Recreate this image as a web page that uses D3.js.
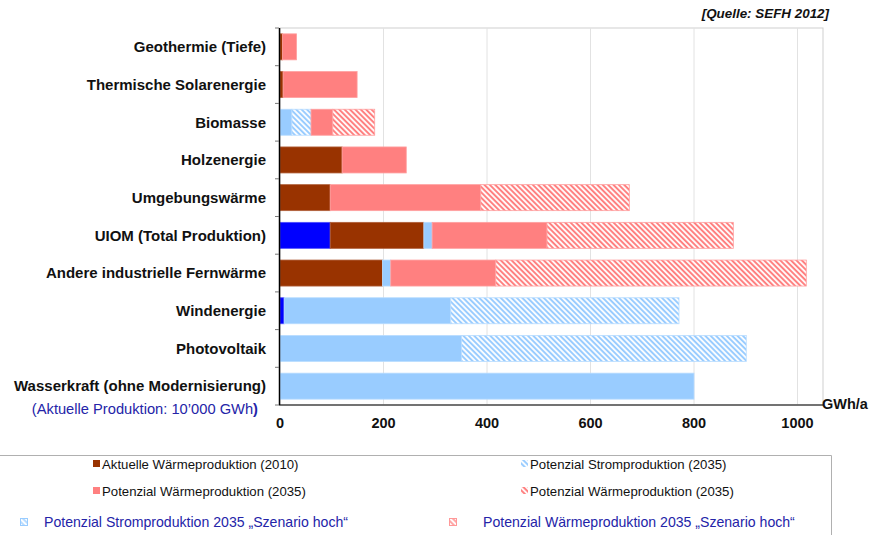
<!DOCTYPE html>
<html><head><meta charset="utf-8">
<script src="https://cdn.jsdelivr.net/npm/d3@7"></script>
<style>body{margin:0;background:#fff}svg{display:block;font-family:"Liberation Sans",Arial,sans-serif}</style>
</head><body><svg id="c" width="872" height="535"></svg>
<script>
const categories = ["Geothermie (Tiefe)","Thermische Solarenergie","Biomasse","Holzenergie","Umgebungswärme","UIOM (Total Produktion)","Andere industrielle Fernwärme","Windenergie","Photovoltaik","Wasserkraft (ohne Modernisierung)"];
const aktuelleStrom  = [0,0,0,0,0,97,0,8,0,0];
const aktuelleWaerme = [5,6,0,120,97,181,198,0,0,0];
const potStrom       = [0,0,23,0,0,16,16,322,351,800];
const potStromHoch   = [0,0,37,0,0,0,0,441,550,0];
const potWaerme      = [27,143,42,124,291,222,203,0,0,0];
const potWaermeHoch  = [0,0,81,0,287,360,600,0,0,0];
const xTicks = [0,200,400,600,800,1000];

const seriesKeys = ["aS","aW","pS","pSH","pW","pWH"];
const seriesArr = [aktuelleStrom,aktuelleWaerme,potStrom,potStromHoch,potWaerme,potWaermeHoch];
const fills = {aS:"#0000FF",aW:"#993300",pS:"#99CCFF",pSH:"url(#hatchB)",pW:"#FF8080",pWH:"url(#hatchR)"};
const edge = {aS:"#4d4dff",aW:"#b0603a",pS:"#b8dcff",pSH:"#b8dcff",pW:"#ffa0a0",pWH:"#ffa0a0"};

const rows = categories.map((c,i)=>{const o={cat:c};seriesKeys.forEach((k,j)=>o[k]=seriesArr[j][i]);return o;});
const svg = d3.select("#c");
const defs = svg.append("defs");
function hatch(id,color){
  const s = 3.8;
  const p = defs.append("pattern").attr("id",id).attr("patternUnits","userSpaceOnUse")
    .attr("width",s).attr("height",s).attr("patternTransform","rotate(-45)");
  p.append("rect").attr("width",s).attr("height",s).attr("fill",color);
  p.append("line").attr("x1",s/4).attr("y1",0).attr("x2",s/4).attr("y2",s).attr("stroke","#fff").attr("stroke-width",1.8);
}
hatch("hatchB","#99CCFF");
hatch("hatchR","#FF8080");

const L=280, R=823, T=28, B=405;
const x = d3.scaleLinear().domain([0,1050]).range([L, L+1050*0.5175]);
const y = d3.scaleBand().domain(categories).range([T,B]).paddingInner(0.31).paddingOuter(0.155);

// plot border
svg.append("rect").attr("x",L).attr("y",T).attr("width",R-L).attr("height",B-T).attr("fill","none").attr("stroke","#cfcfcf");
// grid
svg.append("g").selectAll("line").data(xTicks.slice(1)).join("line")
  .attr("x1",d=>x(d)).attr("x2",d=>x(d)).attr("y1",T).attr("y2",B).attr("stroke","#e2e2e2");

const stack = d3.stack().keys(seriesKeys)(rows);
svg.append("g").selectAll("g").data(stack).join("g")
  .selectAll("rect").data(s=>s.map(d=>({d,key:s.key}))).join("rect")
  .filter(o=>o.d[1]-o.d[0]>0)
  .attr("x",o=>x(o.d[0])).attr("width",o=>x(o.d[1])-x(o.d[0]))
  .attr("y",o=>y(o.d.data.cat)).attr("height",y.bandwidth())
  .attr("fill",o=>fills[o.key]).attr("stroke",o=>edge[o.key]).attr("stroke-width",0.8);

// left axis
const band = (B-T)/categories.length;
svg.append("line").attr("x1",279.5).attr("x2",279.5).attr("y1",T).attr("y2",B).attr("stroke","#000").attr("stroke-width",1.5);
svg.append("g").selectAll("line").data(d3.range(categories.length+1)).join("line")
  .attr("x1",275).attr("x2",279).attr("y1",i=>T+i*band).attr("y2",i=>T+i*band).attr("stroke","#777");
svg.append("g").selectAll("text").data(categories).join("text")
  .attr("x",266).attr("y",d=>y(d)+y.bandwidth()/2).attr("dy","0.35em").attr("text-anchor","end")
  .attr("font-size",15).attr("font-weight","bold").attr("fill","#111").text(d=>d);
const sub = svg.append("text").attr("x",258).attr("y",409).attr("dy","0.35em").attr("text-anchor","end")
  .attr("font-size",14.7).attr("fill","#2424a8");
sub.append("tspan").text("(Aktuelle Produktion: 10’000 GWh");
sub.append("tspan").attr("font-weight","bold").text(")");

// bottom axis
svg.append("line").attr("x1",279).attr("x2",R).attr("y1",B).attr("y2",B).attr("stroke","#000").attr("stroke-width",1.2);
svg.append("g").selectAll("text").data(xTicks).join("text")
  .attr("x",d=>x(d)).attr("y",423).attr("dy","0.35em").attr("text-anchor","middle")
  .attr("font-size",14.5).attr("font-weight","bold").attr("fill","#111").text(d=>d);
svg.append("text").attr("x",822).attr("y",404).attr("dy","0.35em").attr("font-size",14.5).attr("font-weight","bold").attr("fill","#111").text("GWh/a");
svg.append("text").attr("x",829).attr("y",13).attr("dy","0.35em").attr("text-anchor","end")
  .attr("font-size",13.4).attr("font-weight","bold").attr("font-style","italic").attr("fill","#111").text("[Quelle: SEFH 2012]");

// legend box
svg.append("path").attr("d","M0,455.5H831.5V535").attr("fill","none").attr("stroke","#b0b0b0");
const legendItems = [
  {x:93,y:464,fill:"#993300",label:"Aktuelle Wärmeproduktion (2010)"},
  {x:93,y:491,fill:"#FF8080",label:"Potenzial Wärmeproduktion (2035)"},
  {x:521,y:464,fill:"url(#hatchB)",label:"Potenzial Stromproduktion (2035)"},
  {x:521,y:491,fill:"url(#hatchR)",label:"Potenzial Wärmeproduktion (2035)"}
];
const lg = svg.append("g").selectAll("g").data(legendItems).join("g");
lg.append("rect").attr("x",d=>d.x).attr("y",d=>d.y-4).attr("width",7).attr("height",7).attr("fill",d=>d.fill);
lg.append("text").attr("x",d=>d.x+9).attr("y",d=>d.y).attr("dy","0.35em").attr("font-size",13.2).attr("fill","#111").text(d=>d.label);
const blueItems = [
  {x:20,tx:44,fill:"url(#hatchB)",edge:"#99CCFF",label:"Potenzial Stromproduktion 2035 „Szenario hoch“"},
  {x:449,tx:483,fill:"url(#hatchR)",edge:"#FF9999",label:"Potenzial Wärmeproduktion 2035 „Szenario hoch“"}
];
const bg = svg.append("g").selectAll("g").data(blueItems).join("g");
bg.append("rect").attr("x",d=>d.x+0.5).attr("y",518.5).attr("width",7).attr("height",7).attr("fill",d=>d.fill).attr("fill-opacity",0.7).attr("stroke",d=>d.edge).attr("stroke-width",1);
bg.append("text").attr("x",d=>d.tx).attr("y",522).attr("dy","0.35em").attr("font-size",14.1).attr("fill","#2424a8").text(d=>d.label);
</script></body></html>
